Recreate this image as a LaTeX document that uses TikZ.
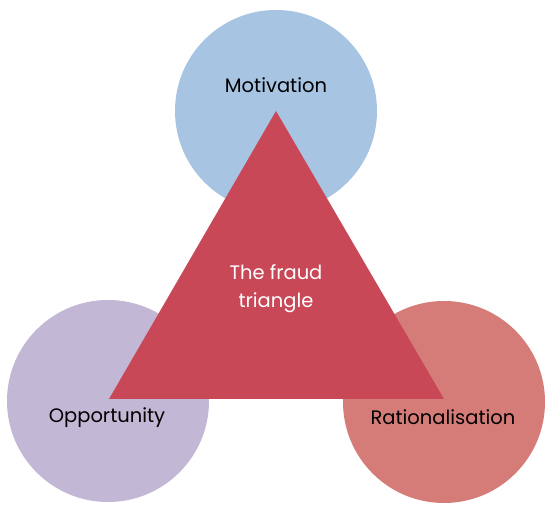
\documentclass[tikz,border=0pt]{standalone}
\usepackage{fontspec}
\setmainfont{Poppins}
\definecolor{cblue}{HTML}{A7C4E2}
\definecolor{clav}{HTML}{C2B8D6}
\definecolor{crose}{HTML}{D67C78}
\definecolor{ctri}{HTML}{C84858}
\begin{document}
\begin{tikzpicture}[x=1pt,y=-1pt,
  circ/.style={circle,minimum size=202pt,inner sep=0pt},
  lbl/.style={font=\fontsize{19.5}{28}\selectfont,text=black,inner sep=0pt}]
\useasboundingbox[fill=white] (0,0) rectangle (552,518);
\node[circ,fill=cblue] (cm) at (276,111) {};
\node[circ,fill=clav] (co) at (108,401) {};
\node[circ,fill=crose] (cr) at (444,402) {};
\coordinate (ta) at (276,111);
\coordinate (tl) at (109,399);
\coordinate (tr) at (444,399);
\fill[ctri] (ta) -- (tl) -- (tr) -- cycle;
\node[lbl] (lm) at (276,85) {Motivation};
\node[lbl] (lo) at (107,418) {Opportunity};
\node[lbl] (lr) at (443,417) {Rationalisation};
\node[lbl,text=white,align=center] (lt) at (276,289) {The fraud\\triangle};
\end{tikzpicture}
\end{document}
